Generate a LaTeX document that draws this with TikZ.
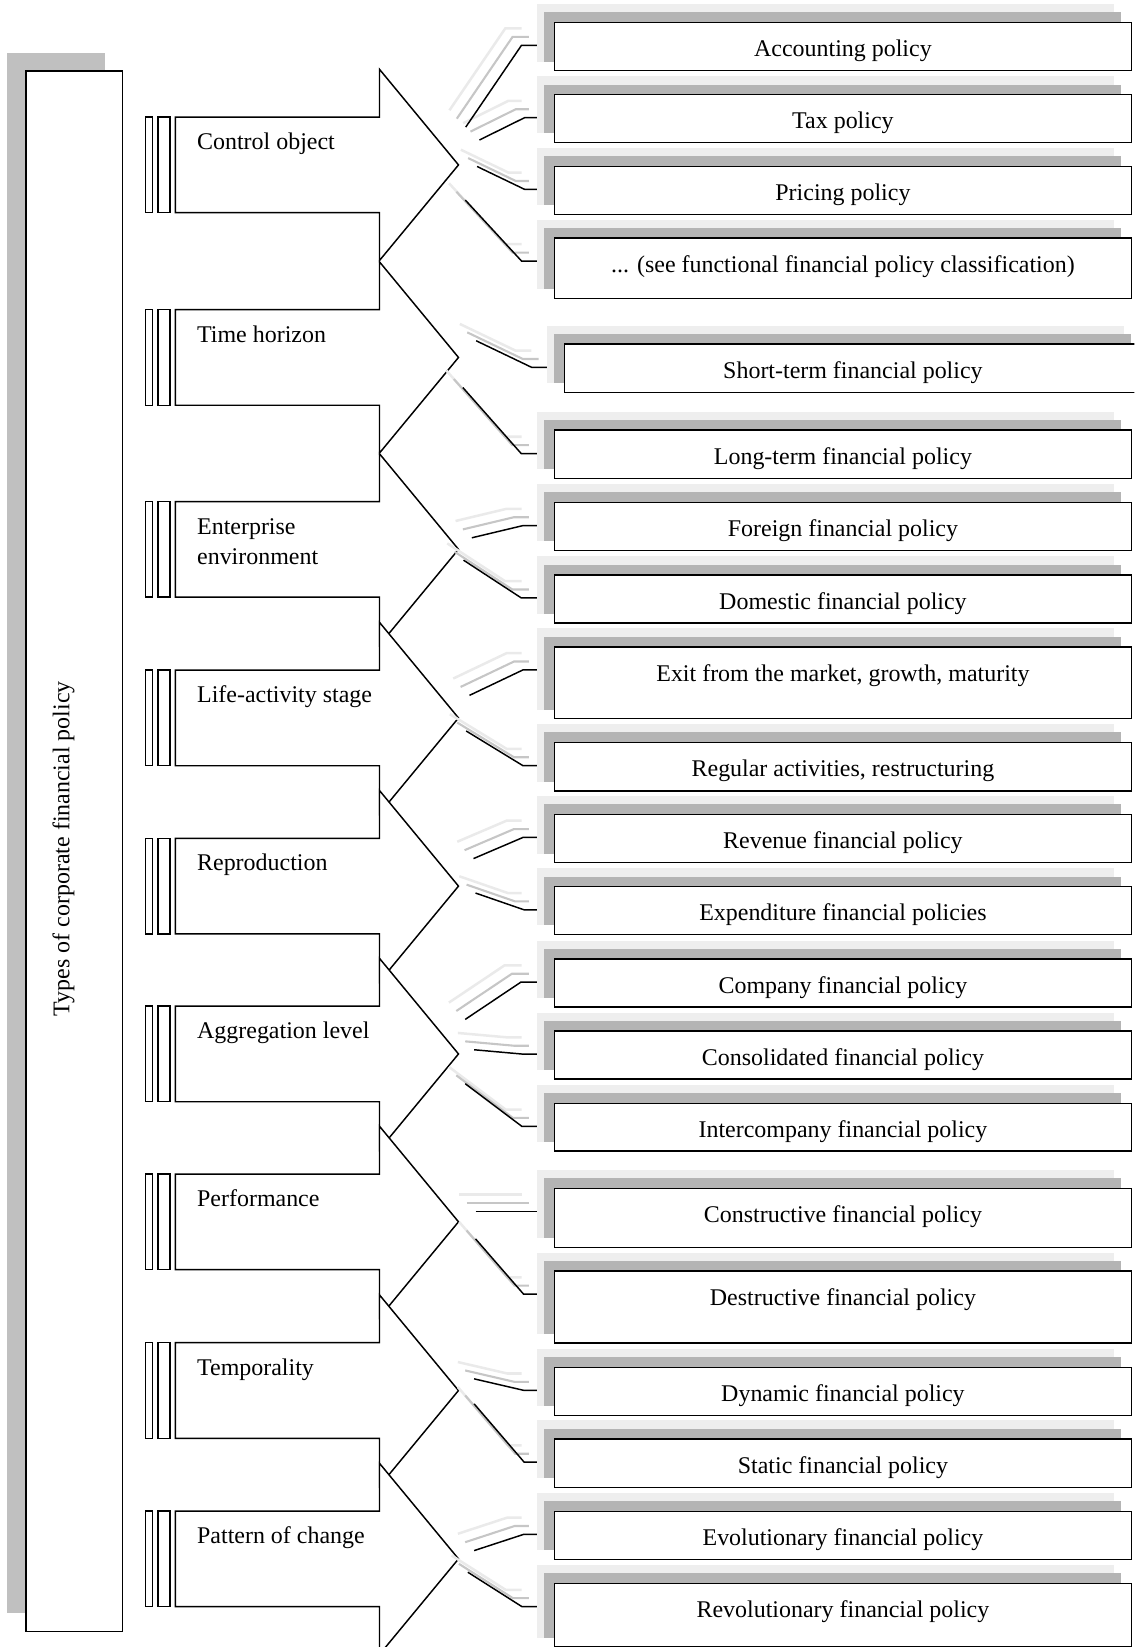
\documentclass[tikz,border=0pt]{standalone}
\usepackage{fontspec}
\setmainfont{Liberation Serif}
\definecolor{leftsh}{HTML}{C0C0C0}
\definecolor{darksh}{HTML}{B4B4B4}
\definecolor{lightsh}{HTML}{EEEEEE}
\definecolor{ghostA}{HTML}{C6C6C6}
\definecolor{ghostB}{HTML}{EAEAEA}
\newcommand\policybox[5]{% name, left x, top, height, text
  \pgfmathsetmacro\pbdep{#4-32.5}%
  \fill[lightsh] (#2-16,#3-17) rectangle (#2+533.5,#3+#4-8);
  \fill[darksh] (#2-9,#3-9) rectangle (#2+540,#3+#4-8);
  \node[pbox, text depth=\pbdep pt] (#1) at (#2,#3) {#5};
}
\begin{document}
\begin{tikzpicture}[x=1pt,y=-1pt,line width=1.4pt,
  lbl/.style={font=\fontsize{22.8}{28}\selectfont, inner sep=0pt},
  pbox/.style={draw, fill=white, line width=1.4pt, anchor=north west, inner sep=0pt,
    minimum width=549pt, text height=32.5pt, font=\fontsize{22.8}{28}\selectfont},
  arrowshape/.style={draw, fill=white, line width=1.4pt, line join=miter},
  barbox/.style={draw, line width=1.4pt},
  link/.style={draw, line width=1.4pt},
  ghost1/.style={draw=ghostA, line width=2pt},
  ghost2/.style={draw=ghostB, line width=2.4pt}]
\useasboundingbox (0,0) rectangle (1080,1568);
\clip (0,0) rectangle (1080,1568);

% main vertical box
\fill[leftsh] (7,50) rectangle (100,1535.5);
\node[draw, fill=white, line width=1.4pt, anchor=north west, inner sep=0pt,
  minimum width=92pt, minimum height=1485.4pt] (mainbox) at (24,67) {};
\node[lbl, rotate=90, anchor=base] (maintitle) at (66,808) {Types of corporate financial policy};

% arrows
\foreach \c in {157,340.3,523,683.5,843.6,1003.4,1163.2,1323.8,1484.1} {
  \path[arrowshape] (167,\c-45.5) -- (361.3,\c-45.5) -- (361.3,\c-91) -- (436.5,\c)
    -- (361.3,\c+91) -- (361.3,\c+45.5) -- (167,\c+45.5) -- cycle;
  \path[barbox] (138.7,\c-45.5) rectangle (145,\c+45.5);
  \path[barbox] (150.2,\c-45.5) rectangle (161.9,\c+45.5);
}
\foreach \a/\b in {157/340.3,340.3/523,523/683.5,683.5/843.6,843.6/1003.4,1003.4/1163.2,1163.2/1323.8,1323.8/1484.1} {
  \draw (361.3,\a+45.5) -- (361.3,\b-45.5);
}

% arrow labels
\node[lbl, anchor=base west] (l1) at (187,142.5) {Control object};
\node[lbl, anchor=base west] (l2) at (187,325.8) {Time horizon};
\node[lbl, anchor=base west, align=left] (l3) at (187,537) {Enterprise\\environment};
\node[lbl, anchor=base west] (l4) at (187,669) {Life-activity stage};
\node[lbl, anchor=base west] (l5) at (187,829.1) {Reproduction};
\node[lbl, anchor=base west] (l6) at (187,988.9) {Aggregation level};
\node[lbl, anchor=base west] (l7) at (187,1148.7) {Performance};
\node[lbl, anchor=base west] (l8) at (187,1309.3) {Temporality};
\node[lbl, anchor=base west] (l9) at (187,1469.6) {Pattern of change};

% connector coordinates
\def\linklist{acc/443.4/121/496.5/43.1/512, tax/456.4/133.3/499.5/112/512,
  pri/454.2/158.5/499.5/180.3/512, see/443/190.5/496.5/248.5/512,
  sho/453.3/324.4/506.3/349.8/521.3, lon/440.6/368.9/496.2/431.8/512,
  for/449.2/512/497.8/500.4/512, dom/441.3/533.3/496.2/569.2/512,
  exi/447/662/497.8/637.8/512, reg/443.8/695.9/497.8/728.9/512,
  rev/450.8/817.4/497.8/797.3/512, exp/452.7/850.2/499/866.2/512,
  com/442.9/970.5/495.9/935/512, con/451.4/999.4/498.4/1003.6/512,
  int/442.9/1031.7/496.8/1072.3/512, cst/452.7/1153.3/498/1153.3/512,
  des/452.7/1179.4/498.4/1232/512, dyn/451.4/1312.7/498.4/1323.6/512,
  sta/451.4/1336.5/499/1392/512, evo/451.4/1476.2/498.4/1460.8/512,
  rvl/445.4/1496.8/496.8/1529.5/512}
\foreach \n/\sx/\sy/\bx/\by/\ex in \linklist {
  \coordinate (\n-s) at (\sx,\sy);
  \coordinate (\n-b) at (\bx,\by);
  \coordinate (\n-e) at (\ex,\by);
}
\foreach \n/\sx/\sy/\bx/\by/\ex in \linklist {
  \path[ghost2] ([shift={(-15.5,-16)}]\n-s) -- ([shift={(-15.5,-16)}]\n-b) -- ([shift={(-15.5,-16)}]\n-e);
}
\foreach \n/\sx/\sy/\bx/\by/\ex in \linklist {
  \path[ghost1] ([shift={(-8.5,-8)}]\n-s) -- ([shift={(-8.5,-8)}]\n-b) -- ([shift={(-8.5,-8)}]\n-e);
}
\foreach \n/\sx/\sy/\bx/\by/\ex in \linklist {
  \path[link] (\n-s) -- (\n-b) -- (\n-e);
}

% policy boxes
\policybox{accb}{527.3}{20.6}{46}{Accounting policy}
\policybox{taxb}{527.3}{89.5}{45.5}{Tax policy}
\policybox{prib}{527.3}{157.8}{45.5}{Pricing policy}
\policybox{seeb}{527.3}{226}{57.5}{... (see functional financial policy classification)}
\policybox{shob}{536.8}{327}{46}{Short-term financial policy}
\policybox{lonb}{527.3}{408.8}{46}{Long-term financial policy}
\policybox{forb}{527.3}{477.8}{45.5}{Foreign financial policy}
\policybox{domb}{527.3}{546.7}{45.5}{Domestic financial policy}
\policybox{exib}{527.3}{615.2}{68.3}{Exit from the market, growth, maturity}
\policybox{regb}{527.3}{706.3}{46}{Regular activities, restructuring}
\policybox{revb}{527.3}{774.6}{46}{Revenue financial policy}
\policybox{expb}{527.3}{843.5}{45.5}{Expenditure financial policies}
\policybox{comb}{527.3}{912.5}{45.5}{Company financial policy}
\policybox{conb}{527.3}{981}{45.5}{Consolidated financial policy}
\policybox{intb}{527.3}{1049.8}{45.5}{Intercompany financial policy}
\policybox{cstb}{527.3}{1130.8}{56}{Constructive financial policy}
\policybox{desb}{527.3}{1209.5}{68.3}{Destructive financial policy}
\policybox{dynb}{527.3}{1301}{46}{Dynamic financial policy}
\policybox{stab}{527.3}{1369.2}{46}{Static financial policy}
\policybox{evob}{527.3}{1438.1}{46}{Evolutionary financial policy}
\policybox{rvlb}{527.3}{1507}{60}{Revolutionary financial policy}
\end{tikzpicture}
\end{document}
